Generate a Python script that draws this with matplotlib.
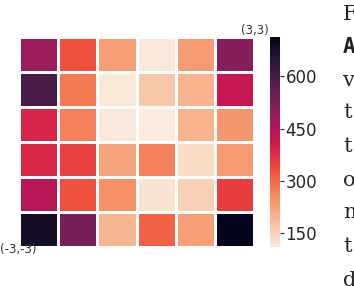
import matplotlib
matplotlib.use('Agg')
import matplotlib.pyplot as plt
import seaborn as sns
import numpy as np

# cell values, top row first (y=3 at top, y=-3 at bottom)
row0 = [480, 330, 230, 115, 235, 510]
row1 = [600, 280, 118, 170, 200, 420]
row2 = [390, 270, 115, 112, 200, 240]
row3 = [385, 350, 220, 270, 140, 235]
row4 = [440, 330, 250, 125, 155, 355]
row5 = [680, 530, 195, 310, 230, 713]
cbar_ticks = [150, 300, 450, 600]
side_letters = ['F', 'A', 'v', 't', 't', 'o', 'm', 't', 'd']

data = np.array([row0, row1, row2, row3, row4, row5])

W, H = 354, 286
fig = plt.figure(figsize=(W / 100, H / 100), dpi=100)
ax = fig.add_axes([19 / W, (H - 246.5) / H, 235 / W, 209.5 / H])
cax = fig.add_axes([270 / W, (H - 246.5) / H, 10 / W, 209.5 / H])

sns.heatmap(data, ax=ax, cbar_ax=cax, cmap='rocket_r', linewidths=0.8,
            linecolor='white', xticklabels=False, yticklabels=False,
            cbar_kws={'ticks': cbar_ticks})
cax.tick_params(labelsize=12, length=3, width=0.8, pad=1, colors='#262626')
for s in cax.spines.values():
    s.set_visible(False)

fig.text(255 / W, 1 - 31 / H, '(3,3)', fontsize=8.5, ha='center', va='center',
         color='#333333')
fig.text(0, 1 - 250 / H, '(-3,-3)', fontsize=8.5, ha='left', va='center',
         color='#333333')

ys = [15, 47, 80, 113, 146, 180, 213, 247, 280]
for ch, y in zip(side_letters, ys):
    fam = 'DejaVu Sans Mono' if ch == 'A' else 'DejaVu Serif'
    fig.text(343 / W, 1 - y / H, ch, fontsize=15, family=fam,
             weight='bold' if ch == 'A' else 'normal',
             ha='left', va='center', color='#222222')

fig.savefig('out.png', dpi=100)
